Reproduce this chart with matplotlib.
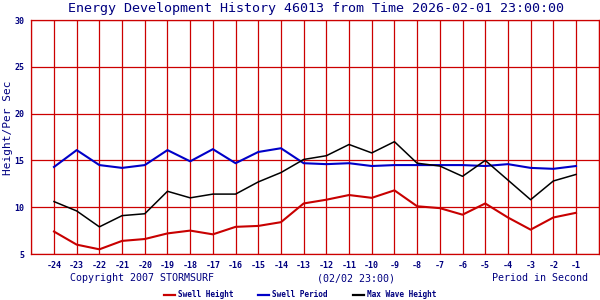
import matplotlib
matplotlib.use('Agg')
import matplotlib.pyplot as plt

# hours before the reference time
hours = [-24, -23, -22, -21, -20, -19, -18, -17, -16, -15, -14, -13,
         -12, -11, -10, -9, -8, -7, -6, -5, -4, -3, -2, -1]
swell_height = [7.4, 6.0, 5.5, 6.4, 6.6, 7.2, 7.5, 7.1, 7.9, 8.0, 8.4, 10.4,
                10.8, 11.3, 11.0, 11.8, 10.1, 9.9, 9.2, 10.4, 8.9, 7.6, 8.9, 9.4]
swell_period = [14.3, 16.1, 14.5, 14.2, 14.5, 16.1, 14.9, 16.2, 14.7, 15.9, 16.3, 14.7,
                14.6, 14.7, 14.4, 14.5, 14.5, 14.5, 14.5, 14.4, 14.6, 14.2, 14.1, 14.4]
max_wave = [10.6, 9.6, 7.9, 9.1, 9.3, 11.7, 11.0, 11.4, 11.4, 12.7, 13.7, 15.1,
            15.5, 16.7, 15.8, 17.0, 14.7, 14.4, 13.3, 15.0, 12.9, 10.8, 12.8, 13.5]
yticks = [5, 10, 15, 20, 25, 30]

navy = '#000080'
grid_red = '#cc0000'
mono = 'DejaVu Sans Mono'

fig = plt.figure(figsize=(6, 3), dpi=100)
ax = fig.add_axes([31.3 / 600, 1 - 254 / 300, 567.4 / 600, 234 / 300])

ax.plot(hours, swell_height, color='#c80000', lw=1.5, label='Swell Height')
ax.plot(hours, swell_period, color='#0000c8', lw=1.5, label='Swell Period')
ax.plot(hours, max_wave, color='black', lw=1.1, label='Max Wave Height')

ax.set_xlim(-25, 0)
ax.set_ylim(5, 30)
ax.set_xticks(list(range(-25, 1)))
ax.set_xticklabels([''] + [str(h) for h in hours] + [''])
ax.set_yticks(yticks)
ax.set_yticklabels([str(v) for v in yticks])
ax.tick_params(length=0, labelsize=6, labelcolor=navy, pad=5)
for lab in ax.get_xticklabels() + ax.get_yticklabels():
    lab.set_family(mono)
    lab.set_fontweight('bold')
ax.grid(True, color=grid_red, lw=0.9)
ax.set_axisbelow(True)
for s in ax.spines.values():
    s.set_color(grid_red)
    s.set_linewidth(0.9)

fig.text(8 / 600, 1 - 128 / 300, 'Height/Per Sec', rotation=90, ha='center', va='center',
         family=mono, fontsize=8, color=navy)
fig.text(0.527, 0.973, 'Energy Development History 46013 from Time 2026-02-01 23:00:00',
         ha='center', va='center', family=mono, fontsize=9.6, color=navy)

fig.text(70 / 600, 0.073, 'Copyright 2007 STORMSURF', ha='left', va='center',
         family=mono, fontsize=7.2, color=navy)
fig.text(356 / 600, 0.073, '(02/02 23:00)', ha='center', va='center',
         family=mono, fontsize=7.2, color=navy)
fig.text(588 / 600, 0.073, 'Period in Second', ha='right', va='center',
         family=mono, fontsize=7.2, color=navy)

leg = fig.legend(loc='center', bbox_to_anchor=(0.5, 0.017), ncol=3, frameon=False,
                 handlelength=1.4, handletextpad=0.4, columnspacing=3.2,
                 labelcolor=navy, prop={'family': mono, 'size': 5.6, 'weight': 'bold'})
for h in leg.legend_handles:
    h.set_linewidth(1.6)

fig.savefig('out.png', dpi=100)
